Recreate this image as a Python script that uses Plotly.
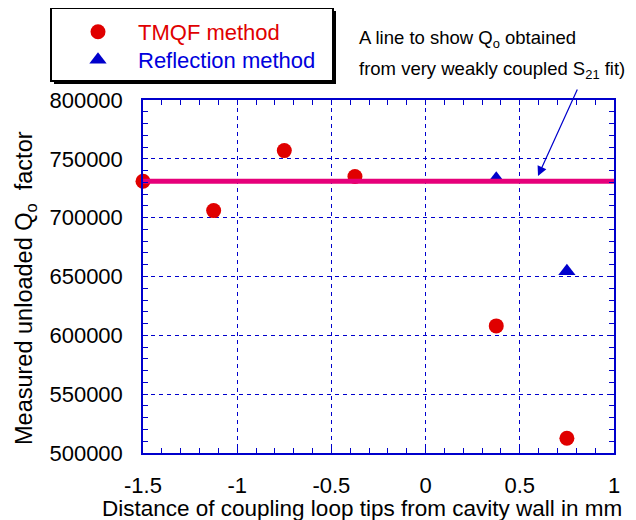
import plotly.graph_objects as go

# ---- data ----
tmqf_x = [-1.5, -1.125, -0.75, -0.375, 0.375, 0.75]
tmqf_q = [731000, 706000, 757000, 735000, 608000, 512500]
refl_x = [0.375, 0.75]
refl_q = [733000, 654500]
fit_x = [-1.5, 1.0]
fit_q = [731000, 731000]
x_tick_vals = [-1.5, -1, -0.5, 0, 0.5, 1]
x_tick_labels = ["-1.5", "-1", "-0.5", "0", "0.5", "1"]
y_tick_vals = [500000, 550000, 600000, 650000, 700000, 750000, 800000]
y_tick_labels = ["500000", "550000", "600000", "650000", "700000", "750000", "800000"]

# page body has an 8px margin; size the figure so it ends at the window edge
OFF = 8
W, H = 628, 512
# plot area in window (screen) pixels
SL, SR, ST, SB = 143, 614, 100, 453
ML, MT = SL - OFF, ST - OFF
MR, MB = W - (SR - OFF), H - (SB - OFF)
PW, PH = W - ML - MR, H - MT - MB


def px(xs):
    return (xs - OFF - ML) / PW


def py(ys):
    return 1 - (ys - OFF - MT) / PH


FONT = "Liberation Sans, Arial, sans-serif"
BLUE = "#0000CC"
RED = "#E00000"

fig = go.Figure()
fig.add_trace(go.Scatter(
    x=tmqf_x, y=tmqf_q, mode="markers", cliponaxis=False,
    name="<span style='color:#E00000'>TMQF method</span>",
    marker=dict(symbol="circle", size=15, color=RED),
    legend="legend",
))
fig.add_trace(go.Scatter(
    x=refl_x, y=refl_q, mode="markers", cliponaxis=False,
    name="<span style='color:#0000DD'>Reflection method</span>",
    marker=dict(symbol="triangle-up", size=15, color=BLUE),
    legend="legend2",
))
fig.add_trace(go.Scatter(
    x=fit_x, y=fit_q, mode="lines", showlegend=False, cliponaxis=False,
    line=dict(color="#E6007A", width=5),
))

axis_common = dict(
    showline=True, linecolor=BLUE, linewidth=1.5, mirror="ticks",
    ticks="inside", ticklen=5, tickcolor=BLUE, tickwidth=1,
    showgrid=True, gridcolor=BLUE, gridwidth=1, griddash="4px,4px",
    zeroline=False, automargin=False,
    tickfont=dict(family=FONT, size=22, color="black"),
)

fig.update_xaxes(
    range=[-1.5, 1], tickvals=x_tick_vals, ticktext=x_tick_labels,
    minor=dict(dtick=0.1, ticks="inside", ticklen=5, tickcolor=BLUE, showgrid=False),
    ticklabelstandoff=12,
    **axis_common,
)
fig.update_yaxes(
    range=[500000, 800000], tickvals=y_tick_vals, ticktext=y_tick_labels,
    minor=dict(dtick=10000, ticks="inside", ticklen=5, tickcolor=BLUE, showgrid=False),
    ticklabelstandoff=14,
    **axis_common,
)

# legend box with shadow
shapes = [
    dict(type="rect", xref="paper", yref="paper",
         x0=px(54), x1=px(336), y0=py(84), y1=py(11),
         fillcolor="black", line=dict(width=0), layer="above"),
    dict(type="rect", xref="paper", yref="paper",
         x0=px(51), x1=px(333), y0=py(81), y1=py(8),
         fillcolor="white", line=dict(color="black", width=2), layer="above"),
]

annotations = [
    dict(xref="paper", yref="paper", x=px(362), y=py(508), xanchor="center", yanchor="middle",
         text="Distance of coupling loop tips from cavity wall in mm", showarrow=False,
         font=dict(family=FONT, size=22.5, color="black")),
    dict(xref="paper", yref="paper", x=px(25), y=py(288), xanchor="center", yanchor="middle",
         textangle=-90,
         text="Measured unloaded Q<sub>o</sub>  factor", showarrow=False,
         font=dict(family=FONT, size=23.5, color="black")),
    dict(xref="paper", yref="paper", x=px(357), y=py(39), xanchor="left", yanchor="middle",
         text="A line to show Q<sub>o</sub> obtained", showarrow=False,
         font=dict(family=FONT, size=18.5, color="black")),
    dict(xref="paper", yref="paper", x=px(357), y=py(70), xanchor="left", yanchor="middle",
         text="from very weakly coupled S<sub>21</sub> fit)", showarrow=False,
         font=dict(family=FONT, size=18.5, color="black")),
    dict(xref="paper", yref="paper", x=px(538), y=py(176), ax=40, ay=-88,
         text="", showarrow=True, arrowhead=2, arrowsize=1.6, arrowwidth=1.2,
         arrowcolor=BLUE),
]

legend_common = dict(
    xanchor="left", yanchor="top",
    bgcolor="rgba(0,0,0,0)", borderwidth=0,
    font=dict(family=FONT, size=22),
    itemwidth=70, tracegroupgap=0,
)

fig.update_layout(
    width=W, height=H,
    margin=dict(l=ML, r=MR, t=MT, b=MB, autoexpand=False),
    paper_bgcolor="white", plot_bgcolor="white",
    font=dict(family=FONT, size=22, color="black"),
    showlegend=True,
    legend=dict(x=px(58), y=py(11), **legend_common),
    legend2=dict(x=px(58), y=py(39), **legend_common),
    shapes=shapes,
    annotations=annotations,
)

fig.write_html("out.html")
